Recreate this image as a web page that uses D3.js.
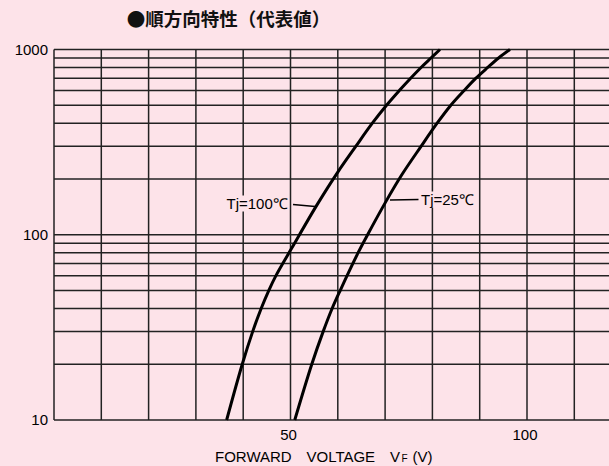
<!DOCTYPE html>
<html>
<head>
<meta charset="utf-8">
<script src="https://cdn.jsdelivr.net/npm/d3@7"></script>
<style>
  body { margin: 0; background: #fde3e9; }
  svg { display: block; }
</style>
</head>
<body>
<div id="chart"></div>
<script>
// forward characteristic
var vf100 = [36.5, 39.8, 42.0, 43.8, 45.4, 46.9, 50.3, 55.6, 60.0, 63.8, 67.3, 70.3, 73.0, 75.4, 77.6, 79.7, 81.6];
var if100 = [10, 20, 30, 40, 50, 60, 85, 145, 218, 300, 400, 500, 600, 700, 800, 900, 1000];
var vf25 = [50.9, 54.5, 56.9, 58.8, 60.5, 64.3, 66.3, 70.1, 73.5, 77.6, 81, 83.9, 86.7, 89.2, 91.7, 94, 96.4];
var if25 = [10, 20, 30, 40, 50, 80, 100, 150, 210, 300, 400, 500, 600, 700, 800, 900, 1000];
var xTicks = [50, 100];
var yTicks = [10, 100, 1000];

var width = 609, height = 466;
var bg = '#fde3e9';
var font = 'Liberation Sans, Arial, sans-serif';

var svg = d3.select('#chart')
    .append('svg')
    .attr('width', width)
    .attr('height', height);

svg.append('rect')
    .attr('width', width)
    .attr('height', height)
    .attr('fill', bg);

var x = d3.scaleLinear().domain([0, 120]).range([54, 621.6]);
var y = d3.scaleLog().domain([10, 1000]).range([420, 49.5]);

var grid = svg.append('g');

// vertical grid
grid.selectAll('line.v')
    .data(d3.range(0, 121, 10))
    .enter()
    .append('line')
    .attr('class', 'v')
    .attr('x1', function (d) { return x(d); })
    .attr('x2', function (d) { return x(d); })
    .attr('y1', y(1000))
    .attr('y2', y(10))
    .attr('stroke', '#222')
    .attr('stroke-width', 1.5);

// horizontal grid
grid.selectAll('line.h')
    .data(y.ticks())
    .enter()
    .append('line')
    .attr('class', 'h')
    .attr('x1', x(0))
    .attr('x2', x(120))
    .attr('y1', function (d) { return y(d); })
    .attr('y2', function (d) { return y(d); })
    .attr('stroke', '#222')
    .attr('stroke-width', 1.5);

var line = d3.line()
    .x(function (d) { return x(d[0]); })
    .y(function (d) { return y(d[1]); })
    .curve(d3.curveCatmullRom.alpha(0.5));

svg.append('path')
    .datum(d3.zip(vf100, if100))
    .attr('d', line)
    .attr('fill', 'none')
    .attr('stroke', '#000')
    .attr('stroke-width', 3);

svg.append('path')
    .datum(d3.zip(vf25, if25))
    .attr('d', line)
    .attr('fill', 'none')
    .attr('stroke', '#000')
    .attr('stroke-width', 3);

// tick labels
var yAxis = d3.axisLeft(y).tickValues(yTicks).tickFormat(d3.format('d')).tickSize(0).tickPadding(6);
var ya = svg.append('g').attr('transform', 'translate(' + x(0) + ',0)').call(yAxis);
ya.select('.domain').remove();
ya.selectAll('text')
    .attr('font-family', font)
    .attr('font-size', 15)
    .attr('fill', '#000');

var xAxis = d3.axisBottom(x).tickValues(xTicks).tickSize(0).tickPadding(9);
var xa = svg.append('g').attr('transform', 'translate(-2.5,' + y(10) + ')').call(xAxis);
xa.select('.domain').remove();
xa.selectAll('text')
    .attr('font-family', font)
    .attr('font-size', 15)
    .attr('fill', '#000');

// x title
var xt = svg.append('text')
    .attr('y', 462)
    .attr('font-family', font)
    .attr('font-size', 15)
    .attr('fill', '#000');
xt.append('tspan').attr('x', 215).text('FORWARD');
xt.append('tspan').attr('x', 306.5).text('VOLTAGE');
xt.append('tspan').attr('x', 390).text('V');
xt.append('tspan').attr('x', 401.5).attr('font-size', 10).text('F');
xt.append('tspan').attr('x', 412.5).text('(V)');

// title
svg.append('text')
    .attr('x', 228.5)
    .attr('y', 25.5)
    .attr('text-anchor', 'middle')
    .attr('font-family', 'Noto Sans CJK JP, sans-serif')
    .attr('font-size', 18.5)
    .attr('font-weight', 'bold')
    .attr('fill', '#111')
    .text('●順方向特性（代表値）');

// curve labels
function label(tx, ty, txt, lx1, ly1, lx2, ly2) {
    var t = svg.append('text')
        .attr('x', tx)
        .attr('y', ty)
        .attr('font-family', font)
        .attr('font-size', 15)
        .attr('fill', '#000')
        .text(txt);
    var b = t.node().getBBox();
    svg.insert('rect', function () { return t.node(); })
        .attr('x', b.x - 1)
        .attr('y', b.y + 1)
        .attr('width', b.width + 2)
        .attr('height', b.height - 1)
        .attr('fill', bg);
    svg.append('line')
        .attr('x1', lx1).attr('y1', ly1)
        .attr('x2', lx2).attr('y2', ly2)
        .attr('stroke', '#000')
        .attr('stroke-width', 1.3);
}
label(226.5, 208.5, 'Tj=100℃', 293, 204.5, 315, 206.5);
label(421, 204.5, 'Tj=25℃', 418.5, 199.5, 390, 200);
</script>
</body>
</html>
